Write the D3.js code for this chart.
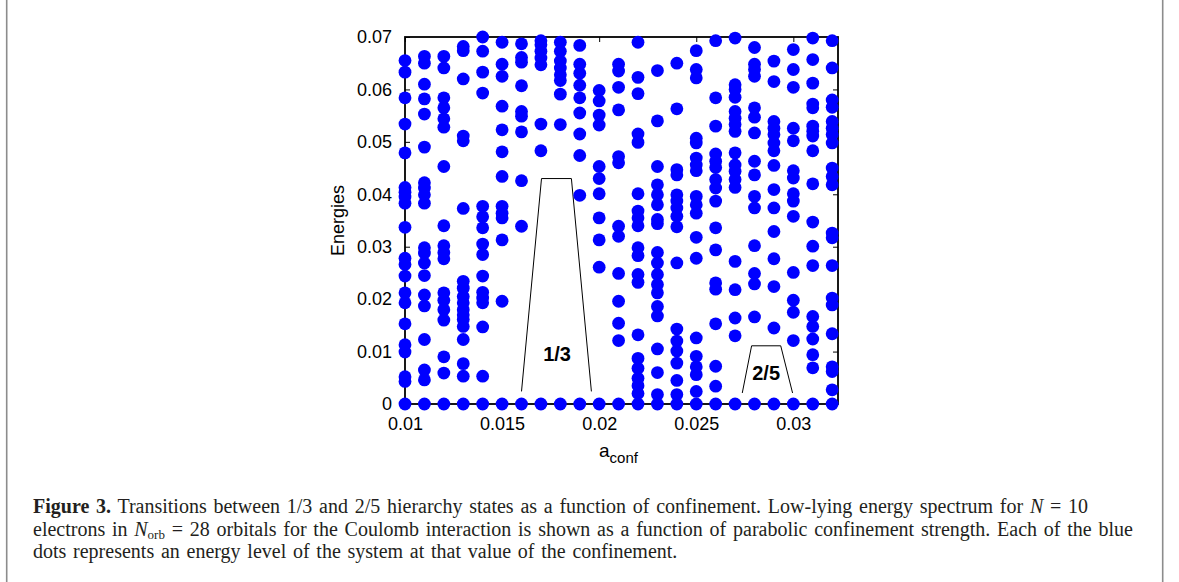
<!DOCTYPE html>
<html><head><meta charset="utf-8">
<script src="https://cdn.jsdelivr.net/npm/d3@7"></script>
<style>
html,body{margin:0;padding:0;background:#fff;}
svg{display:block;}
</style></head>
<body>
<svg id="c" width="1179" height="582"></svg>
<script>
// ---- data ----
const aConf = [0.010,0.011,0.012,0.013,0.014,0.015,0.016,0.017,0.018,0.019,0.020,0.021,0.022,0.023,0.024,0.025,0.026,0.027,0.028,0.029,0.030,0.031,0.032];
const energies = [
 [0,0.0043,0.0052,0.0099,0.0113,0.0153,0.0193,0.0212,0.0244,0.0266,0.0278,0.0337,0.0383,0.0395,0.0404,0.0413,0.0479,0.0534,0.0584,0.0633,0.0655],
 [0,0.0046,0.0065,0.0123,0.0187,0.0208,0.0245,0.0269,0.0288,0.0298,0.0383,0.0399,0.0412,0.0422,0.0490,0.0553,0.0582,0.0610,0.0650,0.0663],
 [0,0.0059,0.0090,0.0160,0.0180,0.0198,0.0212,0.0277,0.0289,0.0302,0.0340,0.0453,0.0528,0.0544,0.0565,0.0584,0.0641,0.0663],
 [0,0.0053,0.0077,0.0123,0.0148,0.0161,0.0170,0.0180,0.0193,0.0205,0.0221,0.0234,0.0373,0.0502,0.0511,0.0620,0.0674,0.0682],
 [0,0.0053,0.0147,0.0193,0.0202,0.0213,0.0244,0.0285,0.0305,0.0336,0.0357,0.0377,0.0593,0.0633,0.0673,0.0700],
 [0,0.0196,0.0313,0.0355,0.0364,0.0377,0.0434,0.0481,0.0523,0.0568,0.0625,0.0648,0.0690],
 [0,0.0339,0.0426,0.0519,0.0549,0.0558,0.0607,0.0652,0.0661,0.0687],
 [0,0.0483,0.0534,0.0647,0.0660,0.0673,0.0685,0.0693],
 [0,0.0533,0.0591,0.0617,0.0628,0.0641,0.0654,0.0673,0.0690],
 [0,0.0398,0.0474,0.0515,0.0555,0.0584,0.0608,0.0631,0.0648,0.0684],
 [0,0.0261,0.0313,0.0355,0.0401,0.0430,0.0453,0.0532,0.0551,0.0578,0.0598],
 [0,0.0121,0.0154,0.0196,0.0249,0.0320,0.0339,0.0460,0.0472,0.0561,0.0604,0.0635,0.0648],
 [0,0.0020,0.0035,0.0049,0.0068,0.0087,0.0132,0.0232,0.0247,0.0283,0.0298,0.0340,0.0355,0.0368,0.0401,0.0499,0.0515,0.0592,0.0623,0.0690],
 [0,0.0018,0.0060,0.0105,0.0168,0.0186,0.0212,0.0228,0.0247,0.0269,0.0289,0.0344,0.0352,0.0380,0.0399,0.0418,0.0453,0.0540,0.0636],
 [0,0.0018,0.0045,0.0078,0.0101,0.0120,0.0143,0.0269,0.0338,0.0358,0.0374,0.0387,0.0399,0.0437,0.0447,0.0563,0.0650],
 [0,0.0024,0.0056,0.0071,0.0091,0.0126,0.0278,0.0318,0.0364,0.0380,0.0396,0.0445,0.0456,0.0469,0.0498,0.0507,0.0622,0.0638,0.0674],
 [0,0.0034,0.0072,0.0153,0.0219,0.0231,0.0294,0.0336,0.0387,0.0412,0.0428,0.0451,0.0463,0.0477,0.0530,0.0584,0.0693],
 [0,0.0130,0.0164,0.0218,0.0272,0.0413,0.0428,0.0444,0.0456,0.0479,0.0520,0.0533,0.0545,0.0558,0.0585,0.0600,0.0609,0.0698],
 [0,0.0166,0.0229,0.0249,0.0302,0.0374,0.0396,0.0437,0.0463,0.0517,0.0547,0.0565,0.0625,0.0638,0.0648,0.0680],
 [0,0.0145,0.0224,0.0277,0.0329,0.0374,0.0409,0.0455,0.0483,0.0498,0.0514,0.0526,0.0539,0.0615,0.0654],
 [0,0.0121,0.0175,0.0198,0.0251,0.0358,0.0387,0.0401,0.0431,0.0445,0.0502,0.0526,0.0604,0.0638,0.0676],
 [0,0.0069,0.0094,0.0124,0.0148,0.0167,0.0264,0.0301,0.0347,0.0420,0.0483,0.0511,0.0520,0.0530,0.0565,0.0572,0.0612,0.0657,0.0698],
 [0,0.0027,0.0062,0.0071,0.0134,0.0189,0.0202,0.0264,0.0317,0.0326,0.0418,0.0434,0.0450,0.0498,0.0514,0.0526,0.0539,0.0566,0.0580,0.0641,0.0693]
];
const xTickValues = [0.010,0.015,0.020,0.025,0.030];
const xTickLabels = ["0.01","0.015","0.02","0.025","0.03"];
const yTickValues = [0,0.01,0.02,0.03,0.04,0.05,0.06,0.07];
const yTickLabels = ["0","0.01","0.02","0.03","0.04","0.05","0.06","0.07"];
const gapThird = [[0.0160,0.0024],[0.01703,0.0430],[0.01857,0.0430],[0.0196,0.0024]];
const gapTwoFifths = [[0.02737,0.0021],[0.02785,0.0111],[0.02935,0.0111],[0.02996,0.0021]];
const gapLabels = [{t:"1/3",x:0.01783,y:0.0096},{t:"2/5",x:0.02860,y:0.0059}];

// ---- drawing ----
const svg = d3.select("#c");
const L=405,R=838,T=37,B=404;
const x = d3.scaleLinear().domain([0.010,0.0323]).range([L,R]);
const y = d3.scaleLinear().domain([0,0.07]).range([B,T]);
const font = "'Liberation Sans', Arial, sans-serif";

// page borders
svg.append("line").attr("x1",6.7).attr("x2",6.7).attr("y1",0).attr("y2",582).attr("stroke","#8c8c8c").attr("stroke-width",1.6);
svg.append("line").attr("x1",1162.7).attr("x2",1162.7).attr("y1",0).attr("y2",582).attr("stroke","#8c8c8c").attr("stroke-width",1.6);

const fmtX = d => xTickLabels[xTickValues.indexOf(d)];
const fmtY = d => yTickLabels[yTickValues.indexOf(d)];

const gx = svg.append("g").attr("transform",`translate(0,${B})`)
  .call(d3.axisBottom(x).tickValues(xTickValues).tickFormat(fmtX).tickSizeInner(-5).tickSizeOuter(0).tickPadding(13));
const gxt = svg.append("g").attr("transform",`translate(0,${T})`)
  .call(d3.axisTop(x).tickValues(xTickValues).tickFormat("").tickSizeInner(-5).tickSizeOuter(0));
const gy = svg.append("g").attr("transform",`translate(${L},0)`)
  .call(d3.axisLeft(y).tickValues(yTickValues).tickFormat(fmtY).tickSizeInner(-5).tickSizeOuter(0).tickPadding(13));
const gyr = svg.append("g").attr("transform",`translate(${R},0)`)
  .call(d3.axisRight(y).tickValues(yTickValues).tickFormat("").tickSizeInner(-5).tickSizeOuter(0));
[gx,gxt,gy,gyr].forEach(g=>{
  g.select(".domain").remove();
  g.selectAll("line").attr("stroke","#000").attr("stroke-width",1);
  g.selectAll("text").attr("fill","#000").style("font-family",font).style("font-size","18px");
});
svg.append("rect").attr("x",L).attr("y",T).attr("width",R-L).attr("height",B-T)
  .attr("fill","none").attr("stroke","#000").attr("stroke-width",1.8);

// annotations
const line = d3.line().x(d=>x(d[0])).y(d=>y(d[1]));
[gapThird,gapTwoFifths].forEach(p=>{
  svg.append("path").attr("d",line(p)).attr("fill","none").attr("stroke","#000").attr("stroke-width",1);
});
gapLabels.forEach(g=>{
  svg.append("text").attr("x",x(g.x)).attr("y",y(g.y)).attr("text-anchor","middle").attr("dominant-baseline","central")
    .style("font-family",font).style("font-weight","bold").style("font-size","20px").text(g.t);
});

// dots
const pts = [];
aConf.forEach((a,i)=>energies[i].forEach(e=>pts.push([a,e])));
svg.append("g").selectAll("circle").data(pts).join("circle")
  .attr("cx",d=>x(d[0])).attr("cy",d=>y(d[1])).attr("r",6.4).attr("fill","#0000ff");

// axis titles
svg.append("text").attr("transform",`translate(344,${(T+B)/2}) rotate(-90)`).attr("text-anchor","middle")
  .style("font-family",font).style("font-size","18px").text("Energies");
const xt = svg.append("text").attr("x",599).attr("y",457)
  .style("font-family",font).style("font-size","19px");
xt.append("tspan").text("a");
xt.append("tspan").attr("dy",6).style("font-size","15px").text("conf");

// caption
const serif = "'Liberation Serif','Times New Roman',serif";
const cap = [
  {y:513, end:1088, parts:[["Figure 3.","b"],[" Transitions between 1/3 and 2/5 hierarchy states as a function of confinement. Low-lying energy spectrum for ",""],["N","i"],[" = 10",""]]},
  {y:536, end:1133, parts:[["electrons in ",""],["N","i"],["orb","sub"],[" = 28 orbitals for the Coulomb interaction is shown as a function of parabolic confinement strength. Each of the blue",""]]},
  {y:558, end:null, parts:[["dots represents an energy level of the system at that value of the confinement.",""]]}
];
const spacings = [];
const capNodes = cap.map(c=>{
  const t = svg.append("text").attr("x",33).attr("y",c.y).style("font-family",serif).style("font-size","20px").attr("fill","#231f20");
  c.parts.forEach(p=>{
    const s = t.append("tspan").text(p[0]);
    if(p[1]==="b") s.style("font-weight","bold");
    if(p[1]==="i") s.style("font-style","italic");
    if(p[1]==="sub"){ s.style("font-size","13px").attr("dy",3); }
  });
  const idx = c.parts.findIndex(p=>p[1]==="sub");
  if(idx>=0){
    const spans = t.selectAll("tspan").nodes();
    d3.select(spans[idx+1]).attr("dy",-3);
  }
  if(c.end){
    const w = t.node().getBBox().width;
    const words = t.text().split(" ").length-1;
    const ws = (c.end-33-w)/words;
    spacings.push(ws);
    t.style("word-spacing",ws+"px");
  }
  return t;
});
const meanWs = d3.mean(spacings);
cap.forEach((c,i)=>{ if(!c.end) capNodes[i].style("word-spacing",meanWs+"px"); });
</script>
</body></html>
